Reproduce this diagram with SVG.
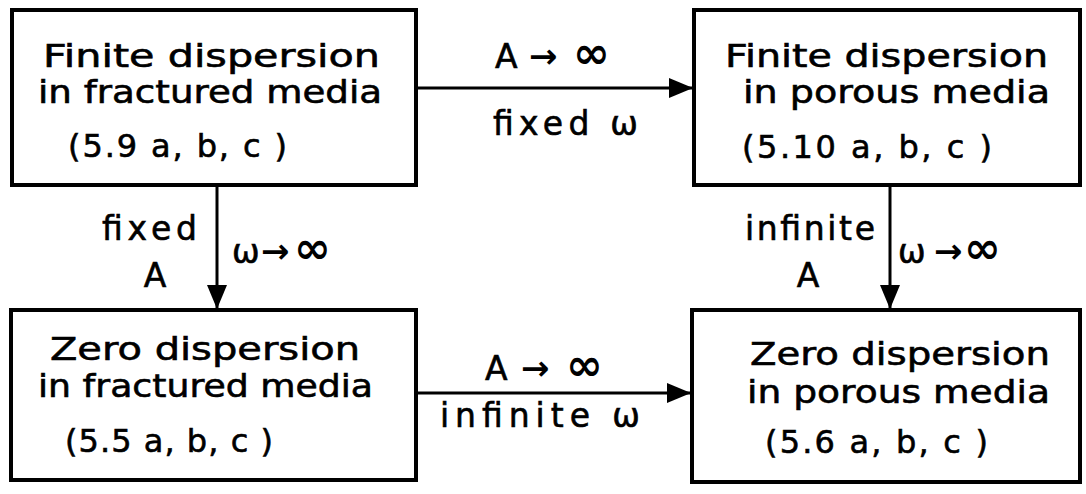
<svg xmlns="http://www.w3.org/2000/svg" width="1086" height="494" viewBox="0 0 1086 494">
  <style>
    .box { fill: #fff; stroke: #000; stroke-width: 4; }
    .t { font-family: "DejaVu Sans", "Liberation Sans", sans-serif; font-size: 32px; fill: #000; stroke: #000; stroke-width: 0.6; }
    .lbl { font-family: "DejaVu Sans", "Liberation Sans", sans-serif; font-size: 33px; fill: #000; stroke: #000; stroke-width: 0.6; }
    .arr { font-family: "DejaVu Sans", sans-serif; font-size: 34px; font-weight: bold; fill: #000; }
    .inf { font-family: "DejaVu Sans", sans-serif; font-size: 44px; font-weight: bold; fill: #000; }
    .edge { fill: none; stroke: #000; stroke-width: 3; }
  </style>
  <defs>
    <marker id="head" viewBox="0 0 24 20" refX="24" refY="10" markerWidth="24" markerHeight="20" markerUnits="userSpaceOnUse" orient="auto">
      <path d="M0,0 L24,10 L0,20 z" fill="#000"/>
    </marker>
  </defs>
  <rect width="1086" height="494" fill="#fff"/>

  <g id="connectors">
    <path class="edge" d="M416,88 L693,88" marker-end="url(#head)"/>
    <path class="edge" d="M416,393 L691,393" marker-end="url(#head)"/>
    <path class="edge" d="M217,185 L217,309" marker-end="url(#head)"/>
    <path class="edge" d="M890,185 L890,309" marker-end="url(#head)"/>

    <!-- top edge labels -->
    <text y="68"><tspan class="lbl" x="495">A</tspan><tspan class="arr" x="529">→</tspan><tspan class="inf" x="573">∞</tspan></text>
    <text class="lbl" x="493" y="135" textLength="145" lengthAdjust="spacing">fixed ω</text>

    <!-- bottom edge labels -->
    <text y="380"><tspan class="lbl" x="485">A</tspan><tspan class="arr" x="521">→</tspan><tspan class="inf" x="566">∞</tspan></text>
    <text class="lbl" x="440" y="427" textLength="200" lengthAdjust="spacing">infinite ω</text>

    <!-- left vertical edge labels -->
    <text class="lbl" x="102" y="240" textLength="95" lengthAdjust="spacing">fixed</text>
    <text class="lbl" x="155" y="287" text-anchor="middle">A</text>
    <text y="263"><tspan class="lbl" x="232">ω</tspan><tspan class="arr" x="261">→</tspan><tspan class="inf" x="294">∞</tspan></text>

    <!-- right vertical edge labels -->
    <text class="lbl" x="745" y="240" textLength="130" lengthAdjust="spacing">infinite</text>
    <text class="lbl" x="808" y="287" text-anchor="middle">A</text>
    <text y="263"><tspan class="lbl" x="898">ω</tspan><tspan class="arr" x="934">→</tspan><tspan class="inf" x="964">∞</tspan></text>
  </g>

  <g id="finite-fractured">
    <rect class="box" x="12" y="10" width="404" height="175"/>
    <text class="t" x="43" y="67" textLength="337" lengthAdjust="spacingAndGlyphs">Finite dispersion</text>
    <text class="t" x="38" y="103" textLength="344" lengthAdjust="spacingAndGlyphs">in fractured media</text>
    <text class="t" x="68" y="157" textLength="219" lengthAdjust="spacing">(5.9 a, b, c )</text>
  </g>

  <g id="finite-porous">
    <rect class="box" x="694" y="10" width="386" height="175"/>
    <text class="t" x="725" y="67" textLength="323" lengthAdjust="spacingAndGlyphs">Finite dispersion</text>
    <text class="t" x="743" y="103" textLength="307" lengthAdjust="spacingAndGlyphs">in porous media</text>
    <text class="t" x="742" y="158" textLength="250" lengthAdjust="spacing">(5.10 a, b, c )</text>
  </g>

  <g id="zero-fractured">
    <rect class="box" x="11" y="310" width="405" height="170"/>
    <text class="t" x="50" y="360" textLength="310" lengthAdjust="spacingAndGlyphs">Zero dispersion</text>
    <text class="t" x="38" y="397" textLength="335" lengthAdjust="spacingAndGlyphs">in fractured media</text>
    <text class="t" x="65" y="452" textLength="208" lengthAdjust="spacing">(5.5 a, b, c )</text>
  </g>

  <g id="zero-porous">
    <rect class="box" x="692" y="310" width="388" height="172"/>
    <text class="t" x="750" y="365" textLength="300" lengthAdjust="spacingAndGlyphs">Zero dispersion</text>
    <text class="t" x="747" y="403" textLength="303" lengthAdjust="spacingAndGlyphs">in porous media</text>
    <text class="t" x="765" y="453" textLength="223" lengthAdjust="spacing">(5.6 a, b, c )</text>
  </g>
</svg>
